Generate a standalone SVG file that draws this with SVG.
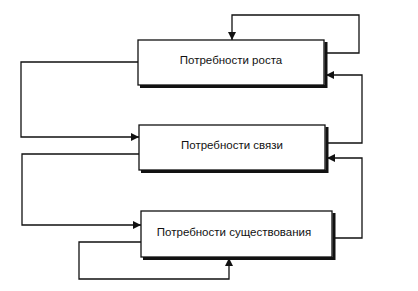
<svg xmlns="http://www.w3.org/2000/svg" width="418" height="291" viewBox="0 0 418 291">
<style>
.box{fill:#fff;stroke:#111;stroke-width:1.3}
.sh{fill:none;stroke:#111;stroke-width:3}
.lbl{font-family:"Liberation Sans",Arial,sans-serif;font-size:11.5px;fill:#111;text-anchor:middle}
.c{fill:none;stroke:#111;stroke-width:1.3}
</style>
<defs>
<marker id="ah" viewBox="0 0 10 10" refX="10" refY="5" markerWidth="8" markerHeight="8" markerUnits="userSpaceOnUse" orient="auto">
<path d="M0,0 L10,5 L0,10 z" fill="#111"/>
</marker>
</defs>
<rect width="418" height="291" fill="#fff"/>
<g id="connectors">
<polyline class="c" points="326,53 359,53 359,15 232,15 232,40" marker-end="url(#ah)"/>
<polyline class="c" points="327,143 362,143 362,75 326,75" marker-end="url(#ah)"/>
<polyline class="c" points="138,62 21,62 21,137 139,137" marker-end="url(#ah)"/>
<polyline class="c" points="334,238 362,238 362,158 327,158" marker-end="url(#ah)"/>
<polyline class="c" points="139,154 22,154 22,225 141,225" marker-end="url(#ah)"/>
<polyline class="c" points="141,242 79,242 79,279 229,279 229,258" marker-end="url(#ah)"/>
</g>
<g id="node-rosta">
<rect class="box" x="138" y="40" width="186" height="45"/>
<polyline class="sh" points="326,42 326,86.5 140,86.5"/>
<text class="lbl" x="231" y="64">Потребности роста</text>
</g>
<g id="node-svyazi">
<rect class="box" x="139" y="125" width="186" height="45"/>
<polyline class="sh" points="327,127 327,171.5 141,171.5"/>
<text class="lbl" x="232" y="149">Потребности связи</text>
</g>
<g id="node-sushch">
<rect class="box" x="141" y="211" width="191" height="46"/>
<polyline class="sh" points="334,213 334,258.5 143,258.5"/>
<text class="lbl" x="234" y="236">Потребности существования</text>
</g>
</svg>
